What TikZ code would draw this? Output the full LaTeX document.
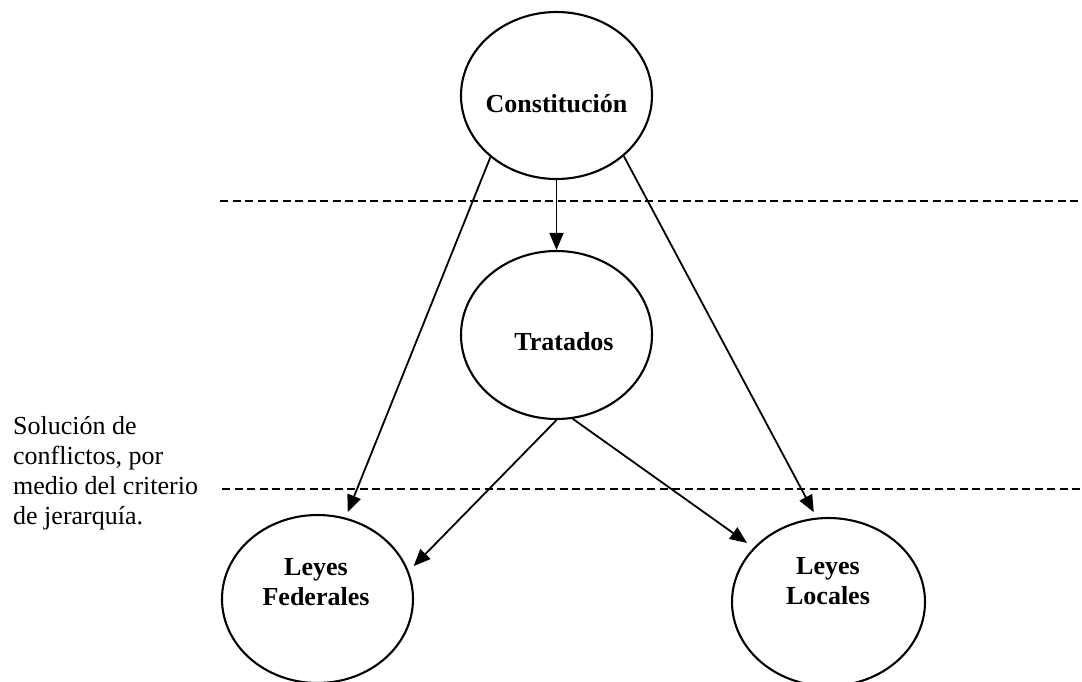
\documentclass[tikz,border=0pt]{standalone}
\usepackage{fontspec}
\setmainfont{Liberation Serif}
\usetikzlibrary{shapes.geometric,arrows.meta}
\begin{document}
\begin{tikzpicture}[x=1pt,y=-1pt,
  bubble/.style={ellipse, draw, line width=2.1pt, inner sep=0pt,
    minimum width=191pt, minimum height=168pt},
  bubtext/.style={font=\fontsize{26}{30}\selectfont\bfseries, align=center,
    inner sep=0pt, anchor=base},
  note/.style={font=\fontsize{26}{30}\selectfont, align=left,
    inner sep=0pt, anchor=base west},
  conn/.style={-{Triangle[length=17pt,width=14pt]}, line width=1.8pt},
  divider/.style={dash pattern=on 8pt off 4.5pt, line width=1.8pt}]
  \useasboundingbox (0,0) rectangle (1082,681);

  % ellipses
  \node[bubble, minimum height=167pt] (const) at (556.5,95.5) {};
  \node[bubble] (trat) at (556.5,335) {};
  \node[bubble] (fed) at (317.5,599) {};
  \node[bubble, minimum width=193pt] (loc) at (828.5,602) {};

  % texts (base anchor = baseline of the last line)
  \node[bubtext] (constt) at (556.5,112) {Constitución};
  \node[bubtext] (tratt) at (564,350) {Tratados};
  \node[bubtext] (fedt) at (316,605) {Leyes\\Federales};
  \node[bubtext] (loct) at (828,604) {Leyes\\Locales};
  \node[note] (sol) at (13,524) {Solución de\\conflictos, por\\medio del criterio\\de jerarquía.};

  % dashed dividers
  \coordinate (d1a) at (220,201);
  \coordinate (d1b) at (1082,201);
  \coordinate (d2a) at (222,489);
  \coordinate (d2b) at (1082,489);
  \draw[divider] (d1a) -- (d1b);
  \draw[divider] (d2a) -- (d2b);

  % connectors
  \draw[conn] (const.south) -- (trat.north);
  \draw[conn, shorten >=6pt] (const.223) -- (fed.71);
  \draw[conn, shorten >=6pt] (const.318) -- (loc.98);
  \draw[conn, shorten >=7pt] (trat.south) -- (fed.17);
  \draw[conn, shorten >=8pt] (trat.281) -- (loc.144);
\end{tikzpicture}
\end{document}
